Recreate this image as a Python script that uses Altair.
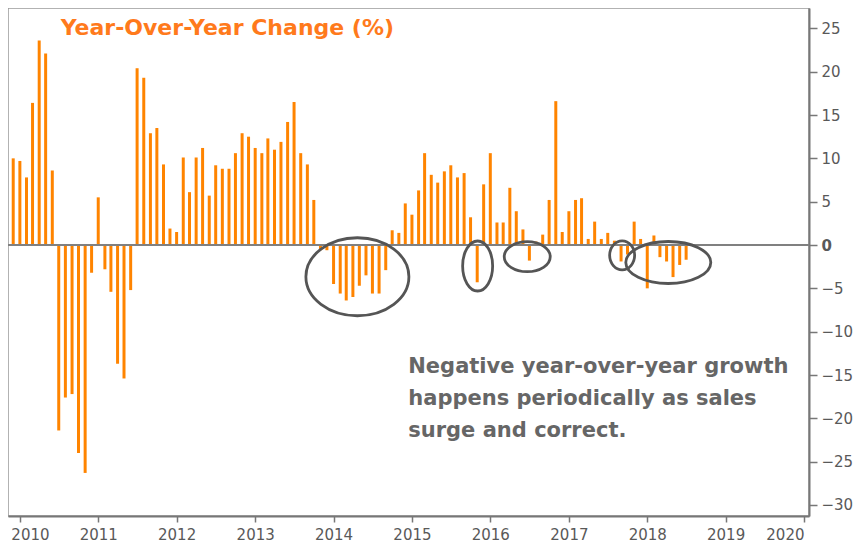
import altair as alt
import pandas as pd

# ---- data (monthly, Dec 2009 .. Jul 2018) ----
YOY = [
    10.0,                                                            # Dec 2009
    9.7, 7.8, 16.4, 23.6, 22.1, 8.6, -21.4, -17.6, -17.2, -24.0, -26.3, -3.2,   # 2010
    5.5, -2.8, -5.4, -13.7, -15.4, -5.2, 20.4, 19.3, 12.9, 13.5, 9.3, 1.9,     # 2011
    1.5, 10.1, 6.1, 10.1, 11.2, 5.7, 9.2, 8.8, 8.8, 10.6, 12.9, 12.5,          # 2012
    11.2, 10.6, 12.3, 11.0, 11.9, 14.2, 16.5, 10.6, 9.3, 5.2, -0.6, -0.6,      # 2013
    -4.5, -5.6, -6.4, -6.0, -4.7, -3.5, -5.6, -5.6, -2.9, 1.7, 1.4, 4.8,       # 2014
    3.5, 6.3, 10.6, 8.1, 7.2, 8.5, 9.2, 7.8, 8.3, 3.2, -4.3, 7.0,              # 2015
    10.6, 2.6, 2.6, 6.6, 3.9, 1.8, -1.8, 0.4, 1.2, 5.2, 16.6, 1.5,             # 2016
    3.9, 5.2, 5.4, 0.7, 2.7, 0.7, 1.4, 0.5, -1.9, -1.1, 2.7, 0.7,              # 2017
    -5.0, 1.1, -1.4, -1.9, -3.7, -2.3, -1.7,                                   # 2018
]
MONTHS = pd.date_range("2009-12-01", periods=len(YOY), freq="MS")
YEAR_TICKS = list(range(2010, 2021))
Y_TICKS = [-30, -25, -20, -15, -10, -5, 0, 5, 10, 15, 20, 25]

TITLE_TEXT = "Year-Over-Year Change (%)"
NOTE_LINES = ["Negative year-over-year growth",
              "happens periodically as sales",
              "surge and correct."]

# circled regions (centre date, centre value) and their radii in pixels
CIRCLE_DATES = ["2014-04-22", "2015-11-03", "2016-06-21", "2017-09-06", "2018-04-09"]
CIRCLE_VALUES = [-3.66, -2.42, -1.35, -1.19, -2.02]
CIRCLE_RX = [51.5, 15, 23, 12.5, 42.5]
CIRCLE_RY = [39, 25, 15, 14.5, 21]

ORANGE = "#FF8400"
TITLE_ORANGE = "#FF7A1C"
GREY_TEXT = "#666666"
AXIS_GREY = "#777777"
LABEL_GREY = "#595959"

bars_df = pd.DataFrame({"date": MONTHS, "value": YOY})


def ellipse_path(rx, ry):
    r = max(rx, ry)
    a, b = rx / r, ry / r
    return (f"M {-a:.4f} 0 A {a:.4f} {b:.4f} 0 1 0 {a:.4f} 0 "
            f"A {a:.4f} {b:.4f} 0 1 0 {-a:.4f} 0 Z")


circ_df = pd.DataFrame({
    "date": pd.to_datetime(CIRCLE_DATES),
    "value": CIRCLE_VALUES,
    "shape": [ellipse_path(rx, ry) for rx, ry in zip(CIRCLE_RX, CIRCLE_RY)],
    "size": [(2 * max(rx, ry)) ** 2 for rx, ry in zip(CIRCLE_RX, CIRCLE_RY)],
})

title_df = pd.DataFrame({"date": pd.to_datetime(["2010-07-10"]), "value": [24.2],
                         "text": [TITLE_TEXT]})
note_df = pd.DataFrame({"date": pd.to_datetime(["2014-12-15"]), "value": [-14.1],
                        "text": [NOTE_LINES]})
zero_df = pd.DataFrame({"value": [0]})

x_scale = alt.Scale(domain=[alt.DateTime(year=2009, month=11, date=30),
                            alt.DateTime(year=2020, month=1, date=1)], nice=False)
y_scale = alt.Scale(domain=[-31.27, 27.35], nice=False, zero=False)

x_axis = alt.Axis(
    values=[alt.DateTime(year=y, month=1, date=1) for y in YEAR_TICKS],
    format="%Y", title=None, grid=False,
    domainColor=AXIS_GREY, domainWidth=2,
    tickColor=AXIS_GREY, tickSize=6, tickWidth=1.5,
    labelFont="DejaVu Sans", labelFontSize=15, labelColor=LABEL_GREY,
    labelPadding=5, labelFlush=12,
    labelOffset={"condition": {"test": "year(datum.value) == 2010", "value": -9},
                 "value": 0},
)
y_axis = alt.Axis(
    orient="right", values=Y_TICKS, title=None, grid=False,
    domainColor=AXIS_GREY, domainWidth=2,
    tickColor=AXIS_GREY, tickSize=8, tickWidth=1.5,
    labelFont="DejaVu Sans", labelFontSize=15, labelColor=LABEL_GREY,
    labelPadding=4,
    labelFontWeight={"condition": {"test": "datum.value == 0", "value": "bold"},
                     "value": "normal"},
)

bars = alt.Chart(bars_df).mark_bar(size=3, color=ORANGE).encode(
    x=alt.X("date:T", scale=x_scale, axis=x_axis),
    y=alt.Y("value:Q", scale=y_scale, axis=y_axis),
)

zero = alt.Chart(zero_df).mark_rule(color="#808080", strokeWidth=2).encode(
    y=alt.Y("value:Q"),
)

circles = alt.Chart(circ_df).mark_point(
    filled=False, stroke="#555555", strokeWidth=2.8, opacity=1
).encode(
    x="date:T", y="value:Q",
    shape=alt.Shape("shape:N", scale=None),
    size=alt.Size("size:Q", scale=None),
)

title = alt.Chart(title_df).mark_text(
    align="left", baseline="alphabetic", font="DejaVu Sans", fontWeight="bold",
    fontSize=22, color=TITLE_ORANGE,
).encode(x="date:T", y="value:Q", text="text:N")

note = alt.Chart(note_df).mark_text(
    align="left", baseline="middle", font="DejaVu Sans", fontWeight="bold",
    fontSize=21, lineHeight=32, color=GREY_TEXT,
).encode(x="date:T", y="value:Q", text="text")

chart = alt.layer(bars, zero, circles, title, note).properties(
    width=801, height=508,
    autosize=alt.AutoSizeParams(type="none"),
    padding={"left": 0, "top": 0, "right": 48, "bottom": 28},
).configure_view(stroke="#999999", strokeWidth=1.5)

chart.save("out.html", embed_options={"renderer": "svg", "actions": False})
